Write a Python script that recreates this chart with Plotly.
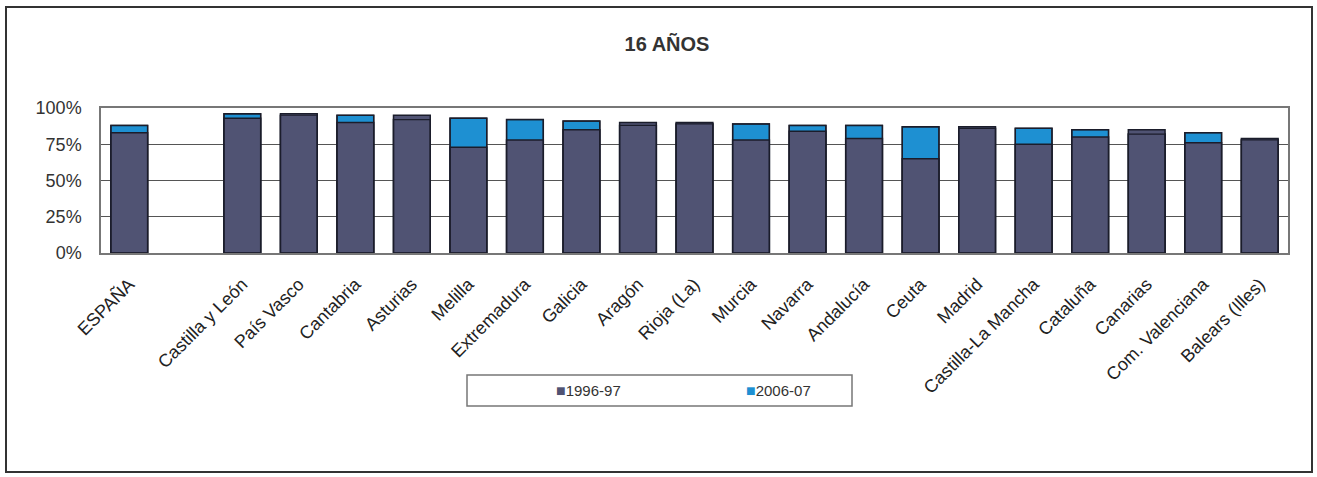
import plotly.graph_objects as go

# categories (the blank slot separates ESPAÑA from the regions)
regiones = ["ESPAÑA", " ", "Castilla y León", "País Vasco", "Cantabria", "Asturias",
            "Melilla", "Extremadura", "Galicia", "Aragón", "Rioja (La)", "Murcia",
            "Navarra", "Andalucía", "Ceuta", "Madrid", "Castilla-La Mancha",
            "Cataluña", "Canarias", "Com. Valenciana", "Balears (Illes)"]

# tasa (%) 16 años
curso_1996 = [83, None, 93, 96, 90, 95, 73, 78, 85, 90, 90, 78, 84, 79, 65, 87, 75, 80, 85, 76, 79]
curso_2006 = [88, None, 96, 95, 95, 92, 93, 92, 91, 88, 89, 89, 88, 88, 87, 86, 86, 85, 82, 83, 78]

series = ['1996-97', '2006-07']

oscuro = '#505373'
azul = '#1E90D2'
borde = '#1b1d2b'

W, H = 1317, 477
L, R, T, B = 101, 1288, 108, 253   # plot area in pixels


def px(x):
    return (x - L) / (R - L)


def py(y):
    return (B - y) / (B - T)


fig = go.Figure()

# 2006-07 behind, 1996-97 in front (overlapped bars)
fig.add_trace(go.Bar(
    x=regiones, y=curso_2006, name=series[1],
    marker=dict(color=azul, line=dict(color=borde, width=1.5)),
))
fig.add_trace(go.Bar(
    x=regiones, y=curso_1996, name=series[0],
    marker=dict(color=oscuro, line=dict(color=borde, width=1.5)),
))
# outline of the 2006-07 bar still shows through where it is the lower one
fig.add_trace(go.Bar(
    x=regiones, y=curso_2006, name=series[1], showlegend=False, hoverinfo='skip',
    marker=dict(color='rgba(0,0,0,0)', line=dict(color=borde, width=1.2)),
))

fig.update_layout(
    width=W, height=H,
    barmode='overlay', bargap=0.35,
    paper_bgcolor='white', plot_bgcolor='white',
    font=dict(family='Arial, Liberation Sans, sans-serif', color='#222222', size=12),
    margin=dict(l=L, r=W - R, t=T, b=H - B),
    title=dict(text='<b>16 AÑOS</b>', x=667 / W, xref='container', xanchor='center',
               y=1 - 44 / H, yref='container', yanchor='middle',
               font=dict(size=20, color='#333333')),
    showlegend=False,
)

fig.update_xaxes(
    type='category', categoryorder='array', categoryarray=regiones,
    tickangle=-45, tickfont=dict(size=18, color='#222222'),
    ticklabelstandoff=12,
    showline=True, linecolor='#777777', linewidth=1.5, mirror=True,
    ticks='', showgrid=False
)
fig.update_yaxes(
    range=[0, 100], tickvals=[0, 25, 50, 75, 100],
    ticktext=['0%', '25%', '50%', '75%', '100%'],
    tickfont=dict(size=18, color='#333333'),
    ticklabelstandoff=14,
    showgrid=True, gridcolor='#555555', gridwidth=1.2,
    showline=True, linecolor='#777777', linewidth=1.5, mirror=True,
    zeroline=False, ticks=''
)

# legend drawn as a boxed row, like the original
fig.add_shape(type='rect', xref='paper', yref='paper',
              x0=px(467), x1=px(852), y0=py(406), y1=py(375),
              line=dict(color='#777777', width=1.5), fillcolor='white')
for nombre, color, cx in [(series[0], oscuro, 588), (series[1], azul, 778)]:
    fig.add_annotation(
        xref='paper', yref='paper', x=px(cx), y=py(390.5), showarrow=False,
        text='<span style="color:%s;font-size:16px">■</span>%s' % (color, nombre),
        font=dict(size=15, color='#333333'), xanchor='center', yanchor='middle')

# outer frame of the chart
fig.add_shape(type='rect', xref='paper', yref='paper',
              x0=px(6), x1=px(1312), y0=py(472), y1=py(7),
              line=dict(color='#333333', width=2), layer='below')

fig.write_html("out.html", config={'displayModeBar': False},
               post_script="document.body.style.margin='0';")
